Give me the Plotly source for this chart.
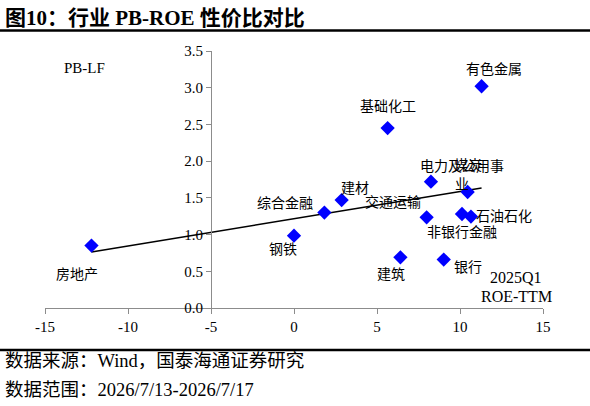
import numpy as np
import plotly.graph_objects as go

# 行业 ROE-TTM (x) 与 PB-LF (y)
industries = ["房地产", "钢铁", "综合金融", "建材", "基础化工", "有色金属",
              "电力及公用事<br>业", "煤炭", "交通运输", "非银行金融", "石油石化",
              "建筑", "银行"]
roe_ttm = [-12.2, 0.0, 1.83, 2.87, 5.64, 11.3, 8.25, 10.46, 7.99, 10.12, 10.66, 6.41, 9.02]
pb_lf = [0.85, 0.985, 1.30, 1.47, 2.45, 3.02, 1.72, 1.58, 1.235, 1.28, 1.245, 0.69, 0.66]

# label offsets in px (x right, y up)
label_dx = [-14, -11, -39, 13, 0, 12, 31, 0, -34, 0, 33, -9, 24]
label_dy = [-29, -14, 9, 12, 22, 17, 6, 26, 15, -18, 0, -17, -8]

x_ticks = [-15, -10, -5, 0, 5, 10, 15]
x_tick_text = ["-15", "-10", "-5", "0", "5", "10", "15"]
y_ticks = [0.0, 0.5, 1.0, 1.5, 2.0, 2.5, 3.0, 3.5]

FONT = "Liberation Serif, Noto Sans CJK SC, serif"
AXIS_GREY = "#8c8c8c"

# linear trend line over the data span
k, b = np.polyfit(roe_ttm, pb_lf, 1)
trend_x = [min(roe_ttm), max(roe_ttm)]
trend_y = [k * v + b for v in trend_x]

fig = go.Figure()
fig.add_trace(go.Scatter(x=trend_x, y=trend_y, mode="lines",
                         line=dict(color="black", width=1.5),
                         hoverinfo="skip", showlegend=False))
fig.add_trace(go.Scatter(x=roe_ttm, y=pb_lf, mode="markers",
                         marker=dict(symbol="diamond", size=11, color="#0000ff"),
                         text=industries, showlegend=False))

for name, xv, yv, dx, dy in zip(industries, roe_ttm, pb_lf, label_dx, label_dy):
    fig.add_annotation(x=xv, y=yv, text=name, showarrow=False,
                       xshift=dx, yshift=dy, xanchor="center", yanchor="middle",
                       font=dict(family=FONT, size=14, color="black"))


def paper_text(x, y, text, size, xanchor="center"):
    fig.add_annotation(xref="paper", yref="paper", x=x, y=y, text=text,
                       showarrow=False, xanchor=xanchor, yanchor="middle",
                       font=dict(family=FONT, size=size, color="black"))


paper_text(0.08, 0.934, "PB-LF", 15)
paper_text(0.946, 0.117, "2025Q1", 16)
paper_text(0.946, 0.043, "ROE-TTM", 16)

# title and footer
paper_text(-0.084, 1.128, "<b>图10：行业 PB-ROE 性价比对比</b>", 21, "left")
paper_text(-0.084, -0.206, "数据来源：Wind，国泰海通证券研究", 18.5, "left")
paper_text(-0.084, -0.319, "数据范围：2026/7/13-2026/7/17", 18.5, "left")
fig.add_shape(type="line", xref="paper", yref="paper", x0=-0.1, x1=1.1,
              y0=1.08, y1=1.08, line=dict(color="black", width=2.5))
fig.add_shape(type="line", xref="paper", yref="paper", x0=-0.1, x1=1.1,
              y0=-0.163, y1=-0.163, line=dict(color="black", width=2.5))

fig.update_xaxes(range=[-15, 15], tickvals=x_ticks, ticktext=x_tick_text,
                 showgrid=False, zeroline=False,
                 showline=True, linecolor=AXIS_GREY, linewidth=1.2,
                 ticks="outside", ticklen=5, tickcolor=AXIS_GREY,
                 tickfont=dict(family=FONT, size=15, color="black"))
fig.update_yaxes(range=[0, 3.5], tickvals=y_ticks, tickformat=".1f",
                 showgrid=False, zeroline=False, anchor="free", position=1/3,
                 showline=True, linecolor=AXIS_GREY, linewidth=1.2,
                 ticks="outside", ticklen=5, tickcolor=AXIS_GREY,
                 tickfont=dict(family=FONT, size=15, color="black"))

fig.update_layout(width=590, height=406, margin=dict(l=45, r=47, t=51, b=98),
                  plot_bgcolor="white", paper_bgcolor="white")

fig.write_html("out.html", config={"displayModeBar": False},
               post_script="document.body.style.margin = '0';")
